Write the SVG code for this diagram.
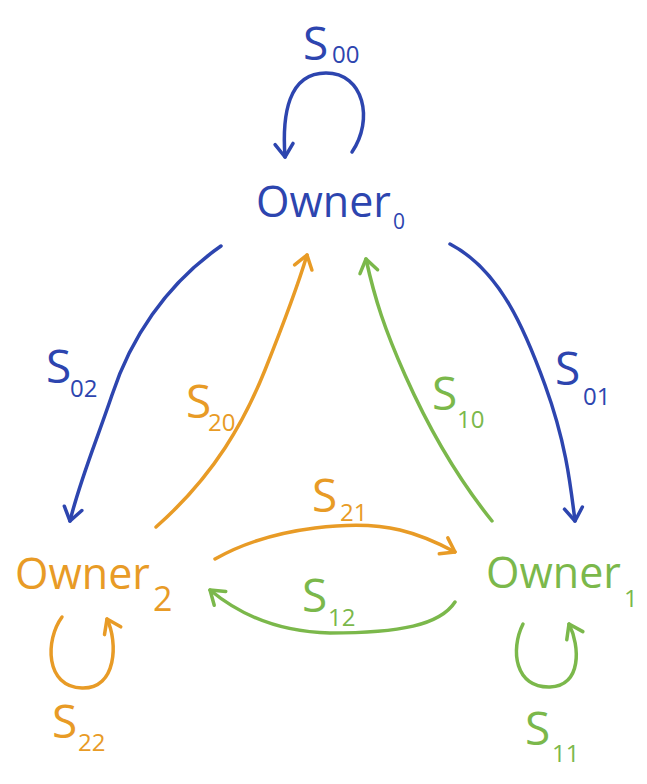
<svg xmlns="http://www.w3.org/2000/svg" width="647" height="784" viewBox="0 0 647 784">
<style>
  text { font-family: "Open Sans", "DejaVu Sans", sans-serif; }
  .big { font-size: 46px; }
  .own { font-size: 43px; }
  .sub { font-size: 24px; }
  .blue { fill: #2D45AF; }
  .orange { fill: #E89B26; }
  .green { fill: #7BB84B; }
  .e { fill: none; stroke-width: 3.5; stroke-linecap: round; stroke-linejoin: round; }
  .eb { stroke: #2D45AF; }
  .eo { stroke: #E89B26; }
  .eg { stroke: #7BB84B; }
</style>
<defs>
  <marker id="mb" viewBox="0 0 24 24" refX="17" refY="12" markerWidth="24" markerHeight="24" markerUnits="userSpaceOnUse" orient="auto">
    <path d="M4,3 L17,12 L4,21" fill="none" stroke="#2D45AF" stroke-width="3.5" stroke-linecap="round" stroke-linejoin="round"/>
  </marker>
  <marker id="mo" viewBox="0 0 24 24" refX="17" refY="12" markerWidth="24" markerHeight="24" markerUnits="userSpaceOnUse" orient="auto">
    <path d="M4,3 L17,12 L4,21" fill="none" stroke="#E89B26" stroke-width="3.5" stroke-linecap="round" stroke-linejoin="round"/>
  </marker>
  <marker id="mg" viewBox="0 0 24 24" refX="17" refY="12" markerWidth="24" markerHeight="24" markerUnits="userSpaceOnUse" orient="auto">
    <path d="M4,3 L17,12 L4,21" fill="none" stroke="#7BB84B" stroke-width="3.5" stroke-linecap="round" stroke-linejoin="round"/>
  </marker>
</defs>

<g id="connectors">
  <!-- self loops -->
  <path class="e eb" d="M352,152 C374,120 364,73 326,73 C288,73 282,115 285,157" marker-end="url(#mb)"/>
  <path class="e eo" d="M62,617 C45,640 45,687 82,688 C117,689 118,642 107,619" marker-end="url(#mo)"/>
  <path class="e eg" d="M523,624 C510,650 515,688 550,687 C582,686 580,646 569,624" marker-end="url(#mg)"/>
  <!-- between nodes -->
  <path class="e eb" d="M221,246 C165,285 130,340 112,395 C95,445 80,480 70,521" marker-end="url(#mb)"/>
  <path class="e eo" d="M156,527 C215,475 245,420 265,370 C285,320 298,285 307,255" marker-end="url(#mo)"/>
  <path class="e eg" d="M492,521 C455,475 425,420 405,375 C385,330 375,300 366,259" marker-end="url(#mg)"/>
  <path class="e eb" d="M450,244 C500,270 525,330 545,385 C565,440 570,480 575,521" marker-end="url(#mb)"/>
  <path class="e eo" d="M215,559 C275,525 360,520 400,530 C425,536 442,545 455,552" marker-end="url(#mo)"/>
  <path class="e eg" d="M455,602 C440,625 400,633 330,633 C280,632 240,615 210,590" marker-end="url(#mg)"/>

  <g id="labels">
    <text class="blue"><tspan class="big" x="303" y="60">S</tspan><tspan class="sub" x="332" y="63">00</tspan></text>
    <text class="blue"><tspan class="big" x="46" y="383">S</tspan><tspan class="sub" x="70" y="397">02</tspan></text>
    <text class="orange"><tspan class="big" x="186" y="418">S</tspan><tspan class="sub" x="208" y="431">20</tspan></text>
    <text class="green"><tspan class="big" x="432" y="410">S</tspan><tspan class="sub" x="457" y="428">10</tspan></text>
    <text class="blue"><tspan class="big" x="555" y="385">S</tspan><tspan class="sub" x="583" y="405">01</tspan></text>
    <text class="orange"><tspan class="big" x="312" y="512">S</tspan><tspan class="sub" x="340" y="521">21</tspan></text>
    <text class="green"><tspan class="big" x="302" y="612">S</tspan><tspan class="sub" x="328" y="626">12</tspan></text>
    <text class="orange"><tspan class="big" x="52" y="738">S</tspan><tspan class="sub" x="78" y="751">22</tspan></text>
    <text class="green"><tspan class="big" x="525" y="745">S</tspan><tspan class="sub" x="552" y="762">11</tspan></text>
  </g>
</g>

<g id="owner0">
  <text class="blue"><tspan class="own" x="256" y="217">Owner</tspan><tspan x="393" y="229" font-size="21">0</tspan></text>
</g>
<g id="owner2">
  <text class="orange"><tspan class="own" x="15" y="589">Owner</tspan><tspan x="153" y="611" font-size="34">2</tspan></text>
</g>
<g id="owner1">
  <text class="green"><tspan class="own" x="486" y="588">Owner</tspan><tspan x="624" y="607" font-size="24">1</tspan></text>
</g>
</svg>
